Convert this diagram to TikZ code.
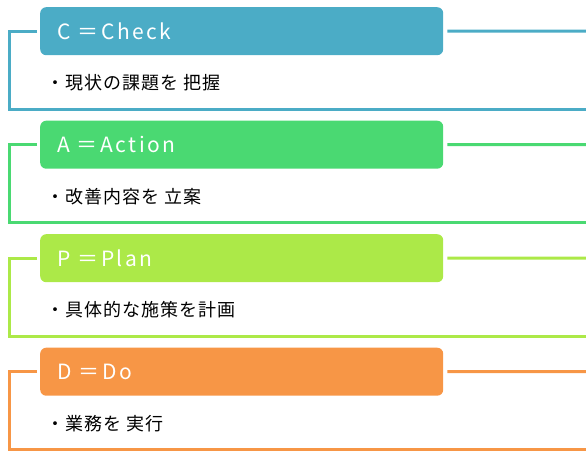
\documentclass[tikz,border=0pt]{standalone}
\usepackage{fontspec}
\setmainfont{Noto Sans CJK JP}
\usepackage{xcolor}
\usetikzlibrary{positioning}
\definecolor{checkblue}{RGB}{75,172,198}
\definecolor{actgreen}{RGB}{74,217,114}
\definecolor{planlime}{RGB}{172,233,72}
\definecolor{doorange}{RGB}{247,150,70}

\begin{document}
\begin{tikzpicture}[x=1pt,y=-1pt,
    head/.style={fill=#1, rounded corners=6pt, anchor=north west,
      minimum width=403pt, minimum height=48pt, inner xsep=17pt, inner ysep=0pt,
      text width=369pt, align=left, text=white,
      font=\fontsize{21}{24}\selectfont\addfontfeature{LetterSpace=12}},
    item/.style={anchor=west, inner sep=0pt,
      font=\fontsize{18}{21}\selectfont\addfontfeature{LetterSpace=6}},
    frame/.style={draw=#1, line width=3pt}]
  \useasboundingbox (0,0) rectangle (586,453);

  % C = Check
  \node[head=checkblue] (hC) at (40,7) {C ＝Check};
  \node[item] (tC) at (46,83) {・現状の課題を 把握};
  \coordinate (cC1) at (9.5,109);
  \coordinate (cC2) at (586,109);
  \coordinate (cC3) at (586,31);
  \draw[frame=checkblue] ([xshift=-3pt]hC.west) -| (cC1) -- (cC2);
  \draw[frame=checkblue] ([xshift=4pt]hC.east) -- (cC3);

  % A = Action
  \node[head=actgreen] (hA) at (40,120.5) {A ＝Action};
  \node[item] (tA) at (46,196.5) {・改善内容を 立案};
  \coordinate (cA1) at (9.5,222.5);
  \coordinate (cA2) at (586,222.5);
  \coordinate (cA3) at (586,144.5);
  \draw[frame=actgreen] ([xshift=-3pt]hA.west) -| (cA1) -- (cA2);
  \draw[frame=actgreen] ([xshift=4pt]hA.east) -- (cA3);

  % P = Plan
  \node[head=planlime] (hP) at (40,234) {P ＝Plan};
  \node[item] (tP) at (46,310) {・具体的な施策を計画};
  \coordinate (cP1) at (9.5,336);
  \coordinate (cP2) at (586,336);
  \coordinate (cP3) at (586,258);
  \draw[frame=planlime] ([xshift=-3pt]hP.west) -| (cP1) -- (cP2);
  \draw[frame=planlime] ([xshift=4pt]hP.east) -- (cP3);

  % D = Do
  \node[head=doorange] (hD) at (40,347.5) {D ＝Do};
  \node[item] (tD) at (46,423.5) {・業務を 実行};
  \coordinate (cD1) at (9.5,449.5);
  \coordinate (cD2) at (586,449.5);
  \coordinate (cD3) at (586,371.5);
  \draw[frame=doorange] ([xshift=-3pt]hD.west) -| (cD1) -- (cD2);
  \draw[frame=doorange] ([xshift=4pt]hD.east) -- (cD3);
\end{tikzpicture}
\end{document}
